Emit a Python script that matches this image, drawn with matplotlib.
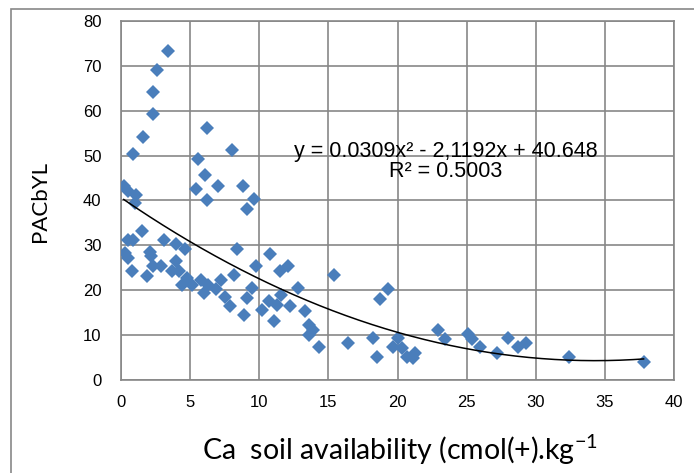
import matplotlib
matplotlib.use("Agg")
import matplotlib.pyplot as plt
from matplotlib.patches import Rectangle
import numpy as np

# Ca soil availability vs PACbYL
ca_soil = [3.4, 2.6, 2.3, 2.3, 1.6, 0.9, 6.2, 8.0, 5.6, 6.1,
           5.4, 7.0, 6.2, 8.8, 9.6, 9.1, 0.2, 0.5, 1.1, 1.0,
           1.5, 0.5, 0.9, 3.1, 4.0, 4.6, 8.4, 10.8, 0.3, 0.5,
           2.1, 2.2, 0.8, 1.9, 2.3, 2.9, 3.7, 4.0, 4.2, 4.4,
           4.8, 5.1, 5.8, 6.0, 6.3, 6.9, 7.2, 7.5, 7.9, 8.2,
           8.9, 9.1, 9.5, 9.8, 10.2, 10.7, 11.3, 11.1, 11.5, 12.1,
           11.6, 12.2, 12.8, 13.3, 13.6, 13.9, 13.6, 14.3, 15.4, 16.4,
           18.2, 18.5, 19.3, 18.7, 20.0, 19.7, 20.3, 20.7, 21.3, 21.1,
           22.9, 23.4, 25.1, 25.4, 26.0, 27.2, 28.0, 28.7, 29.3, 32.4,
           37.8]
pacbyl = [73.4, 69.0, 64.1, 59.2, 54.2, 50.3, 56.2, 51.2, 49.3, 45.6,
          42.5, 43.2, 40.2, 43.2, 40.3, 38.2, 43.2, 42.1, 41.3, 39.5,
          33.3, 31.3, 31.1, 31.3, 30.2, 29.3, 29.3, 28.1, 28.3, 27.2,
          28.5, 27.6, 24.2, 23.1, 25.3, 25.3, 24.2, 26.5, 24.4, 21.2,
          22.7, 21.2, 22.3, 19.4, 21.2, 20.3, 22.3, 18.6, 16.4, 23.3,
          14.4, 18.2, 20.5, 25.3, 15.6, 17.5, 16.8, 13.2, 24.2, 25.3,
          19.0, 16.4, 20.5, 15.3, 12.3, 11.2, 10.1, 7.4, 23.3, 8.2,
          9.3, 5.2, 20.2, 18.0, 9.3, 7.3, 7.1, 5.2, 6.1, 5.0,
          11.2, 9.1, 10.3, 9.1, 7.3, 6.1, 9.3, 7.3, 8.2, 5.2,
          4.1]

# trendline coefficients as printed on the chart
trend_coef = [0.0309, -2.1192, 40.648]
eq_text = "y = 0.0309x² - 2,1192x + 40.648"
r2_text = "R² = 0.5003"

plt.rcParams['font.family'] = ['Liberation Sans', 'DejaVu Sans']
plt.rcParams['mathtext.default'] = 'regular'

grid_col = '#878787'
fig = plt.figure(figsize=(6.94, 4.73), dpi=100)
ax = fig.add_axes([121/694, 1 - 380/473, 553/694, 359/473])

ax.plot(ca_soil, pacbyl, linestyle='none', marker='D', markersize=7.2,
        color='#4A7EBB', markeredgewidth=0, zorder=3)

xs = np.linspace(min(ca_soil), max(ca_soil), 200)
ax.plot(xs, np.polyval(trend_coef, xs), color='black', linewidth=1.1, zorder=4)

ax.set_xlim(0, 40)
ax.set_ylim(0, 80)
ax.set_xticks(range(0, 41, 5))
ax.set_yticks(range(0, 81, 10))
ax.grid(True, color=grid_col, linewidth=1.2)
ax.set_axisbelow(True)
for s in ax.spines.values():
    s.set_color(grid_col)
    s.set_linewidth(1.2)
ax.tick_params(length=0, labelsize=12, colors='black')
ax.tick_params(axis='y', pad=14)
ax.tick_params(axis='x', pad=11)

ax.text(23.5, 50.9, eq_text, ha='center', va='center', fontsize=15.5)
ax.text(23.5, 46.4, r2_text, ha='center', va='center', fontsize=15.5)

fig.text(400/694, 1 - 450/473, "Ca  soil availability (cmol(+).kg$^{-1}$",
         ha='center', va='center', fontsize=20.5, family=['Lato', 'DejaVu Sans'])
fig.text(40/694, 1 - 202/473, "PACbYL", ha='center', va='center',
         rotation=90, fontsize=16, family=['Lato', 'DejaVu Sans'])

# outer chart frame (cut off on the right and bottom)
fig.patches.append(Rectangle((11/694, -0.1), 1.2, 1.1 - 9/473,
                             transform=fig.transFigure, fill=False,
                             edgecolor=grid_col, linewidth=1.2, clip_on=False))

fig.savefig("out.png", dpi=100)
